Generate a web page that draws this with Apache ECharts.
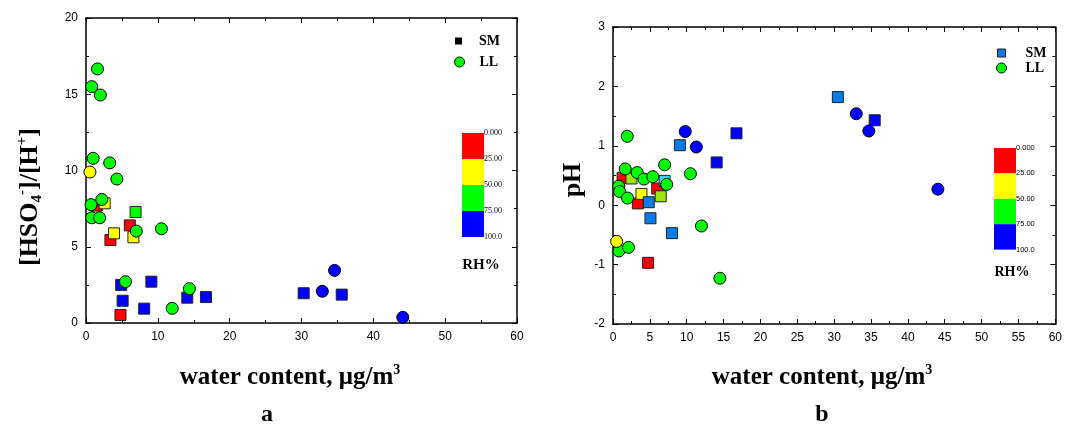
<!DOCTYPE html>
<html>
<head>
<meta charset="utf-8">
<script src="https://cdn.jsdelivr.net/npm/echarts@6/dist/echarts.min.js"></script>
<style>
  html, body { margin: 0; padding: 0; background: #fff; }
  #chart { width: 1065px; height: 430px; }
</style>
</head>
<body>
<div id="chart"></div>
<script>
// ---- panel a: [HSO4-]/[H+] vs water content ----
const xTicksA = [0, 10, 20, 30, 40, 50, 60]
const yTicksA = [0, 5, 10, 15, 20]
const smRedA = [[1.5, 7.7], [6.1, 6.4], [3.4, 5.44], [4.8, 0.52]]
const smYellowA = [[2.6, 7.85], [3.9, 5.88], [6.6, 5.62]]
const smGreenA = [[6.9, 7.28]]
const smBlueA = [[4.9, 2.5], [9.1, 2.71], [5.1, 1.46], [14.1, 1.66], [16.7, 1.7], [8.1, 0.94], [30.3, 1.95], [35.6, 1.86]]
const llGreenA = [[1.6, 16.66], [0.8, 15.5], [2.0, 14.95], [1.0, 10.8], [3.3, 10.5], [4.3, 9.44], [0.7, 7.76], [2.2, 8.1], [0.8, 6.9], [1.9, 6.9], [7.0, 6.03], [10.5, 6.18], [5.5, 2.71], [14.4, 2.25], [12.0, 0.96]]
const llYellowA = [[0.55, 9.9]]
const llBlueA = [[32.9, 2.08], [34.6, 3.45], [44.1, 0.37]]

// ---- panel b: pH vs water content ----
const xTicksB = [0, 5, 10, 15, 20, 25, 30, 35, 40, 45, 50, 55, 60]
const yTicksB = [-2, -1, 0, 1, 2, 3]
const smRedB = [[1.3, 0.46], [6.0, 0.28], [3.37, 0.03], [4.76, -0.97]]
const smYellowB = [[3.86, 0.19]]
const smLimeB = [[2.5, 0.45], [6.47, 0.15]]
const smCyanB = [[7.0, 0.41]]
const smSkyB = [[9.07, 1.01], [4.85, 0.05], [5.08, -0.22], [8.0, -0.47], [30.5, 1.82]]
const smBlueB = [[16.75, 1.21], [14.06, 0.72], [35.5, 1.43]]
const llGreenB = [[1.93, 1.16], [7.0, 0.68], [10.5, 0.53], [1.66, 0.61], [3.28, 0.55], [4.2, 0.44], [5.4, 0.48], [7.28, 0.35], [0.77, 0.32], [0.9, 0.23], [1.97, 0.12], [12.0, -0.35], [0.8, -0.77], [2.1, -0.71], [14.5, -1.23]]
const llYellowB = [[0.5, -0.61]]
const llBlueB = [[9.8, 1.24], [11.3, 0.98], [33.0, 1.54], [34.7, 1.25], [44.07, 0.27]]

// colour bar (RH%)
const rhLabels = ['0.000', '25.00', '50.00', '75.00', '100.0']
const rhColors = ['#ff0000', '#ffff00', '#00ff00', '#0000ff']

const serif = '"Liberation Serif", "Times New Roman", serif'
const sans = '"Liberation Sans", Arial, sans-serif'

function valueAxis (ticks, extra) {
  return Object.assign({
    type: 'value',
    min: ticks[0],
    max: ticks[ticks.length - 1],
    interval: ticks[1] - ticks[0],
    axisLine: { onZero: false, lineStyle: { color: '#000', width: 1.5 } },
    axisTick: { inside: true, length: 5, lineStyle: { color: '#000', width: 1 } },
    minorTick: { show: true, splitNumber: 2, length: 3, lineStyle: { color: '#000', width: 1 } },
    axisLabel: { color: '#000', fontSize: 12, fontFamily: sans, margin: 8 },
    splitLine: { show: false }
  }, extra)
}

function scatter (name, data, panel, symbol, color) {
  return {
    name: name,
    type: 'scatter',
    xAxisIndex: panel * 2,
    yAxisIndex: panel * 2,
    data: data,
    symbol: symbol,
    symbolSize: symbol === 'rect' ? 11 : 12,
    itemStyle: { color: color, borderColor: symbol === 'rect' ? '#222' : '#000', borderWidth: 1, opacity: 1 },
    emphasis: { disabled: true },
    silent: true
  }
}

// one legend per entry so each icon can have its own size
function legendItem (name, icon, size, left, cy, pad, style) {
  return {
    left: left,
    top: cy - 9,
    padding: 0,
    orient: 'vertical',
    itemWidth: size,
    itemHeight: size,
    selectedMode: false,
    data: [{ name: name, icon: icon, itemStyle: style }],
    textStyle: { fontFamily: serif, fontWeight: 'bold', fontSize: 14, color: '#000', padding: [0, 0, 0, pad], lineHeight: 18 }
  }
}

function colorBar (x, y, w, h, labelFont) {
  let items = []
  rhColors.forEach((c, i) => {
    items.push({ type: 'rect', shape: { x: x, y: y + i * h, width: w, height: h }, style: { fill: c } })
  })
  rhLabels.forEach((t, i) => {
    items.push({ type: 'text', x: x + w, y: y + i * h, style: { text: t, font: labelFont, fill: '#000', align: 'left', verticalAlign: 'middle' } })
  })
  return items
}

const titleRich = {
  b: { fontFamily: serif, fontWeight: 'bold', fontSize: 26, lineHeight: 30 },
  sub: { fontFamily: serif, fontWeight: 'bold', fontSize: 15, verticalAlign: 'bottom' },
  sup: { fontFamily: serif, fontWeight: 'bold', fontSize: 15, verticalAlign: 'top' },
  t: { fontFamily: serif, fontWeight: 'bold', fontSize: 25, lineHeight: 30 },
  s: { fontFamily: serif, fontWeight: 'bold', fontSize: 14, verticalAlign: 'top' }
}

let chart = echarts.init(document.getElementById('chart'))
let options = {
  animation: false,
  grid: [
    { left: 86, top: 18, width: 431, height: 305 },
    { left: 613, top: 27, width: 445, height: 297 }
  ],
  xAxis: [
    valueAxis(xTicksA, { gridIndex: 0, position: 'bottom' }),
    valueAxis(xTicksA, { gridIndex: 0, position: 'top', axisLabel: { show: false } }),
    valueAxis(xTicksB, { gridIndex: 1, position: 'bottom' }),
    valueAxis(xTicksB, { gridIndex: 1, position: 'top', axisLabel: { show: false } })
  ],
  yAxis: [
    valueAxis(yTicksA, { gridIndex: 0, position: 'left' }),
    valueAxis(yTicksA, { gridIndex: 0, position: 'right', axisLabel: { show: false } }),
    valueAxis(yTicksB, { gridIndex: 1, position: 'left' }),
    valueAxis(yTicksB, { gridIndex: 1, position: 'right', axisLabel: { show: false } })
  ],
  legend: [
    legendItem('SM', 'rect', 7, 455, 41, 12, { color: '#000', borderWidth: 0 }),
    legendItem('LL', 'circle', 10, 454, 62, 10, { color: '#00ff00', borderColor: '#000', borderWidth: 1 }),
    legendItem('SM', 'rect', 8, 997, 53, 15, { color: '#0a7ce8', borderColor: '#222', borderWidth: 1 }),
    legendItem('LL', 'circle', 10, 996, 68, 14, { color: '#00ff00', borderColor: '#000', borderWidth: 1 })
  ],
  graphic: [].concat(
    colorBar(462, 133, 22, 26, '8px ' + serif),
    colorBar(994, 148, 22, 25.4, '7.5px ' + sans),
    [
      { type: 'text', x: 481, y: 265, style: { text: 'RH%', font: 'bold 15px ' + serif, fill: '#000', align: 'center', verticalAlign: 'middle' } },
      { type: 'text', x: 1012, y: 272, style: { text: 'RH%', font: 'bold 14px ' + serif, fill: '#000', align: 'center', verticalAlign: 'middle' } },
      { type: 'text', x: 30, y: 197, rotation: Math.PI / 2, style: { text: '{b|[HSO}{sub|4}{sup|-}{b|]/[H}{sup|+}{b|]}', rich: titleRich, fill: '#000', align: 'center', verticalAlign: 'middle' } },
      { type: 'text', x: 573, y: 180, rotation: Math.PI / 2, style: { text: 'pH', font: 'bold 26px ' + serif, fill: '#000', align: 'center', verticalAlign: 'middle' } },
      { type: 'text', x: 290, y: 378, style: { text: '{t|water content, μg/m}{s|3}', rich: titleRich, fill: '#000', align: 'center', verticalAlign: 'middle' } },
      { type: 'text', x: 822, y: 378, style: { text: '{t|water content, μg/m}{s|3}', rich: titleRich, fill: '#000', align: 'center', verticalAlign: 'middle' } },
      { type: 'text', x: 267, y: 415, style: { text: 'a', font: 'bold 24px ' + serif, fill: '#000', align: 'center', verticalAlign: 'middle' } },
      { type: 'text', x: 822, y: 415, style: { text: 'b', font: 'bold 24px ' + serif, fill: '#000', align: 'center', verticalAlign: 'middle' } }
    ]
  ),
  series: [
    scatter('SM', smRedA, 0, 'rect', '#ff0000'),
    scatter('SM', smYellowA, 0, 'rect', '#ffff00'),
    scatter('SM', smGreenA, 0, 'rect', '#00ff00'),
    scatter('SM', smBlueA, 0, 'rect', '#0000ff'),
    scatter('LL', llGreenA, 0, 'circle', '#00ff00'),
    scatter('LL', llYellowA, 0, 'circle', '#ffff00'),
    scatter('LL', llBlueA, 0, 'circle', '#0000ff'),
    scatter('SM', smRedB, 1, 'rect', '#ff0000'),
    scatter('SM', smYellowB, 1, 'rect', '#ffff00'),
    scatter('SM', smLimeB, 1, 'rect', '#99e610'),
    scatter('SM', smCyanB, 1, 'rect', '#33d6f0'),
    scatter('SM', smSkyB, 1, 'rect', '#0a7ce8'),
    scatter('SM', smBlueB, 1, 'rect', '#0000ff'),
    scatter('LL', llGreenB, 1, 'circle', '#00ff00'),
    scatter('LL', llYellowB, 1, 'circle', '#ffff00'),
    scatter('LL', llBlueB, 1, 'circle', '#0000ff')
  ]
}
chart.setOption(options)
</script>
</body>
</html>
